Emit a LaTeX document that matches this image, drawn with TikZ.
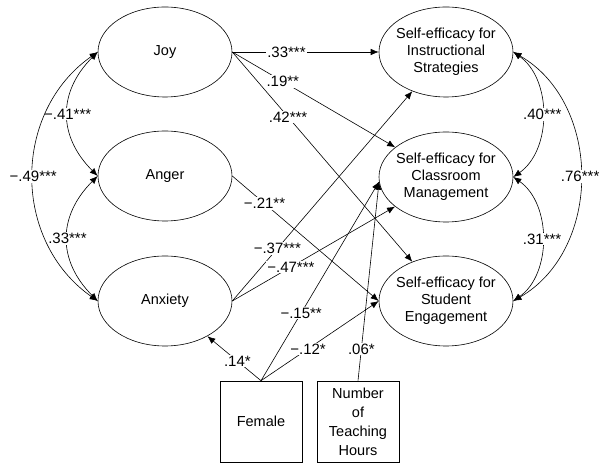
\documentclass[tikz,border=0pt]{standalone}
\usepackage{fontspec}
\setmainfont{Liberation Sans}
\usetikzlibrary{shapes.geometric,arrows.meta}

\begin{document}
\begin{tikzpicture}[x=1pt,y=1pt,line width=0.6pt,
  >={Latex[length=8pt,width=6.5pt]},
  every node/.style={font=\fontsize{14.5}{17}\selectfont},
  factor/.style={ellipse, draw, minimum width=134pt, minimum height=90pt,
    inner xsep=-5pt, inner ysep=0pt, align=center},
  covar/.style={rectangle, draw, minimum width=82pt, minimum height=81pt,
    inner sep=0pt, align=center},
  coef/.style={fill=white, inner sep=1pt, font=\fontsize{15}{17}\selectfont}]
\useasboundingbox (0,0) rectangle (602,463);
% emotions
\node [factor] (joy) at (165,411) {Joy};
\node [factor] (anger) at (165,287) {Anger};
\node [factor] (anxiety) at (165,162) {Anxiety};
% self-efficacy
\node [factor] (instr) at (446,411) {Self-efficacy for\\Instructional\\Strategies};
\node [factor] (class) at (446,286) {Self-efficacy for\\Classroom\\Management};
\node [factor] (engage) at (446,162) {Self-efficacy for\\Student\\Engagement};
% covariates
\node [covar] (female) at (261,41.5) {Female};
\node [covar, font=\fontsize{14.5}{19}\selectfont] (hours) at (358,41.5) {Number\\of\\Teaching\\Hours};
% correlations
\path [draw, <->] (joy.west) to [out=225, in=135, looseness=1.17] node [coef] {−.41***} (anger.west);
\path [draw, <->] (anger.west) to [out=225, in=135, looseness=1.17] node [coef] {.33***} (anxiety.west);
\path [draw, <->] (joy.west) to [out=215, in=145, looseness=1.08] node [coef] {−.49***} (anxiety.west);
\path [draw, <->] (instr.east) to [out=-35, in=35, looseness=0.97] node [coef] {.40***} (class.east);
\path [draw, <->] (class.east) to [out=-35, in=35, looseness=0.97] node [coef] {.31***} (engage.east);
\path [draw, <->] (instr.east) to [out=-30, in=30, looseness=1.06] node [coef] {.76***} (engage.east);
% paths
\path [draw, ->] (joy.east) -- node [coef, pos=0.37] {.33***} (instr.west);
\path [draw, ->] (joy.east) -- node [coef, pos=0.31] {.19**} (class);
\path [draw, ->] (joy.east) -- node [coef, pos=0.31] {.42***} (engage);
\path [draw, ->] (anger.east) -- node [coef, pos=0.22] {−.21**} (engage.west);
\path [draw, ->] (anxiety.east) -- node [coef, pos=0.25] {−.37***} (instr);
\path [draw, ->] (anxiety.east) -- node [coef, pos=0.36] {−.47***} (class);
\path [draw, ->] (female.north) -- node [coef, pos=0.44] {.14*} (anxiety);
\path [draw, ->] (female.north) -- node [coef, pos=0.34] {−.15**} (class.184);
\path [draw, ->] (female.north) -- node [coef, pos=0.40] {−.12*} (engage.west);
\path [draw, ->] (hours.north) -- node [coef, pos=0.16] {.06*} (class.184);
\end{tikzpicture}
\end{document}
